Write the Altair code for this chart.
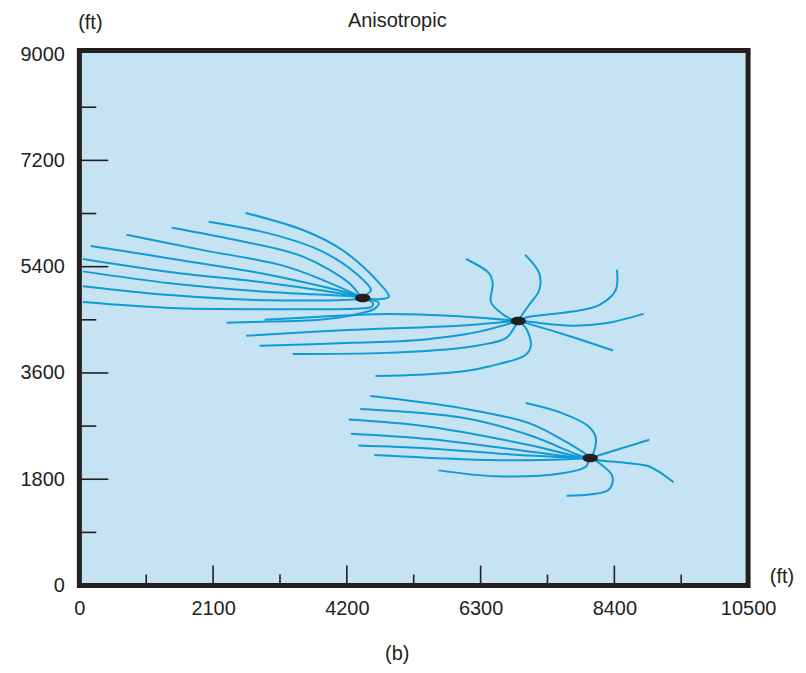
import altair as alt
import pandas as pd

# ---- axes ----
X_DOMAIN = [0, 10500]
Y_DOMAIN = [0, 9060]
X_LABELS = [0, 2100, 4200, 6300, 8400, 10500]
Y_LABELS = [0, 1800, 3600, 5400, 7200, 9000]
X_MAJOR = [2100, 4200, 6300, 8400]
X_MINOR = [1050, 3150, 5250, 7350, 9450]
Y_MAJOR = [1800, 3600, 5400, 7200]
Y_MINOR = [900, 2700, 4500, 6300, 8100]

# ---- wells (ft) ----
WELL_X = [4450, 6890, 8020]
WELL_Y = [4870, 4480, 2160]

# ---- streamlines (ft), each list of (x, y) points ending at a well ----
LINES_A = [
    [(55, 4800), (1420, 4700), (2990, 4680), (4400, 4690), (4590, 4720), (4610, 4780), (4530, 4840), (4450, 4870)],
    [(2310, 4450), (2990, 4470), (3770, 4500), (4290, 4580), (4640, 4690), (4700, 4790), (4540, 4850), (4450, 4870)],
    [(55, 5070), (1420, 4920), (2990, 4830), (4350, 4850), (4450, 4870)],
    [(55, 5320), (1420, 5120), (2990, 4970), (4350, 4890), (4450, 4870)],
    [(55, 5530), (1420, 5310), (2990, 5120), (4340, 4900), (4450, 4870)],
    [(180, 5750), (1420, 5540), (2990, 5260), (4340, 4920), (4450, 4870)],
    [(740, 5940), (1940, 5680), (3250, 5400), (4340, 4930), (4450, 4870)],
    [(1450, 6060), (2460, 5850), (3510, 5570), (4240, 5120), (4400, 4920), (4450, 4870)],
    [(2030, 6160), (2990, 5960), (3770, 5680), (4340, 5290), (4580, 5000), (4500, 4920), (4450, 4870)],
    [(2610, 6310), (3510, 6020), (4130, 5680), (4710, 5120), (4860, 4890), (4710, 4850), (4450, 4870)],
]
LINES_B = [
    [(2910, 4500), (3770, 4550), (4810, 4600), (5960, 4560), (6890, 4480)],
    [(2620, 4230), (4290, 4330), (5960, 4400), (6770, 4470), (6890, 4480)],
    [(2830, 4060), (4290, 4110), (5340, 4160), (5960, 4240), (6280, 4300), (6770, 4440), (6890, 4480)],
    [(3350, 3920), (4810, 3940), (5960, 4020), (6280, 4070), (6700, 4190), (6830, 4370), (6890, 4480)],
    [(4650, 3550), (5340, 3570), (5960, 3620), (6430, 3710), (7010, 3910), (7090, 4070), (7010, 4360), (6890, 4480)],
    [(6070, 5530), (6430, 5290), (6490, 5120), (6460, 4810), (6560, 4670), (6800, 4500), (6890, 4480)],
    [(7000, 5600), (7220, 5290), (7220, 5000), (7060, 4750), (6930, 4550), (6890, 4480)],
    [(8440, 5350), (8420, 5000), (8160, 4750), (7740, 4640), (7010, 4540), (6890, 4480)],
    [(8860, 4600), (8260, 4440), (7740, 4400), (7030, 4470), (6890, 4480)],
    [(8380, 3980), (7740, 4210), (7030, 4440), (6890, 4480)],
]
LINES_C = [
    [(4570, 3210), (6020, 3000), (7060, 2750), (7580, 2470), (7970, 2210), (8020, 2160)],
    [(4410, 2990), (6020, 2840), (7060, 2550), (7890, 2190), (8020, 2160)],
    [(4230, 2810), (5490, 2690), (7060, 2380), (7890, 2170), (8020, 2160)],
    [(4260, 2570), (5490, 2480), (7060, 2270), (7890, 2160), (8020, 2160)],
    [(4380, 2370), (5490, 2320), (7060, 2200), (7890, 2160), (8020, 2160)],
    [(4630, 2210), (6020, 2140), (7060, 2120), (7890, 2150), (8020, 2160)],
    [(5640, 1950), (6540, 1850), (7580, 1900), (7950, 2010), (8000, 2130), (8020, 2160)],
    [(7010, 3090), (7580, 2920), (8000, 2690), (8110, 2500), (8060, 2210), (8020, 2160)],
    [(8950, 2470), (8020, 2160)],
    [(9330, 1750), (8940, 2020), (8630, 2070), (8110, 2130), (8020, 2160)],
    [(7650, 1520), (8310, 1620), (8370, 1850), (8130, 2100), (8020, 2160)],
]

LINE_COLOR = "#0f9ad8"
INK = "#231f20"
FONT = "Liberation Sans"

rows = []
for gname, group in (("A", LINES_A), ("B", LINES_B), ("C", LINES_C)):
    for i, line in enumerate(group):
        for k, (x, y) in enumerate(line):
            rows.append({"line": f"{gname}{i}", "order": k, "x": x, "y": y})
lines_df = pd.DataFrame(rows)
wells_df = pd.DataFrame({"x": WELL_X, "y": WELL_Y})

XS = alt.Scale(domain=X_DOMAIN, nice=False, zero=False)
YS = alt.Scale(domain=Y_DOMAIN, nice=False, zero=False)
XA = alt.Axis(values=X_LABELS, ticks=False, domain=False, grid=False, labelFontSize=20,
              labelFont=FONT, labelColor=INK, labelPadding=13, labelFlush=False,
              labelOverlap=False, title=None, format="d")
YA = alt.Axis(values=Y_LABELS, ticks=False, domain=False, grid=False, labelFontSize=20,
              labelFont=FONT, labelColor=INK, labelPadding=15, labelFlush=False,
              labelOverlap=False, title=None, format="d")


def X(f="x"):
    return alt.X(f, type="quantitative", scale=XS, axis=XA)


def Y(f="y"):
    return alt.Y(f, type="quantitative", scale=YS, axis=YA)


lines = alt.Chart(lines_df).mark_line(
    interpolate="catmull-rom", strokeWidth=2, color=LINE_COLOR
).encode(x=X(), y=Y(), detail="line:N", order="order:Q")

ELLIPSE = "M -1 0 A 1 0.55 0 1 1 1 0 A 1 0.55 0 1 1 -1 0 Z"
wells = alt.Chart(wells_df).mark_point(
    shape=ELLIPSE, size=240, filled=True, color=INK, opacity=1
).encode(x=X(), y=Y())

H = 536
xmaj = alt.Chart(pd.DataFrame({"x": X_MAJOR})).mark_rule(color=INK, strokeWidth=1.6).encode(
    x=X(), y=alt.value(H), y2=alt.value(H - 20))
xmin = alt.Chart(pd.DataFrame({"x": X_MINOR})).mark_rule(color=INK, strokeWidth=1.6).encode(
    x=X(), y=alt.value(H), y2=alt.value(H - 11))
ymaj = alt.Chart(pd.DataFrame({"y": Y_MAJOR})).mark_rule(color=INK, strokeWidth=1.6).encode(
    y=Y(), x=alt.value(0), x2=alt.value(29))
ymin = alt.Chart(pd.DataFrame({"y": Y_MINOR})).mark_rule(color=INK, strokeWidth=1.6).encode(
    y=Y(), x=alt.value(0), x2=alt.value(17))


def label(text, x, y, size):
    return alt.Chart(pd.DataFrame({"t": [text]})).mark_text(
        font=FONT, fontSize=size, color=INK, align="center", baseline="middle"
    ).encode(text="t:N", x=alt.value(x), y=alt.value(y))


title = label("Anisotropic", 318.5, -30, 20)
ft_y = label("(ft)", 11, -28, 20)
ft_x = label("(ft)", 704, 527, 20)
sub = label("(b)", 318.5, 605, 20)

chart = alt.layer(lines, wells, xmaj, xmin, ymaj, ymin, title, ft_y, ft_x, sub).properties(
    width=670, height=H,
    autosize=alt.AutoSizeParams(type="none"),
    padding={"left": 71.5, "top": 42, "right": 50, "bottom": 78},
).configure_view(stroke=INK, strokeWidth=5, fill="#c5e3f3")

chart.save("out.html", embed_options={"renderer": "svg", "actions": False})
